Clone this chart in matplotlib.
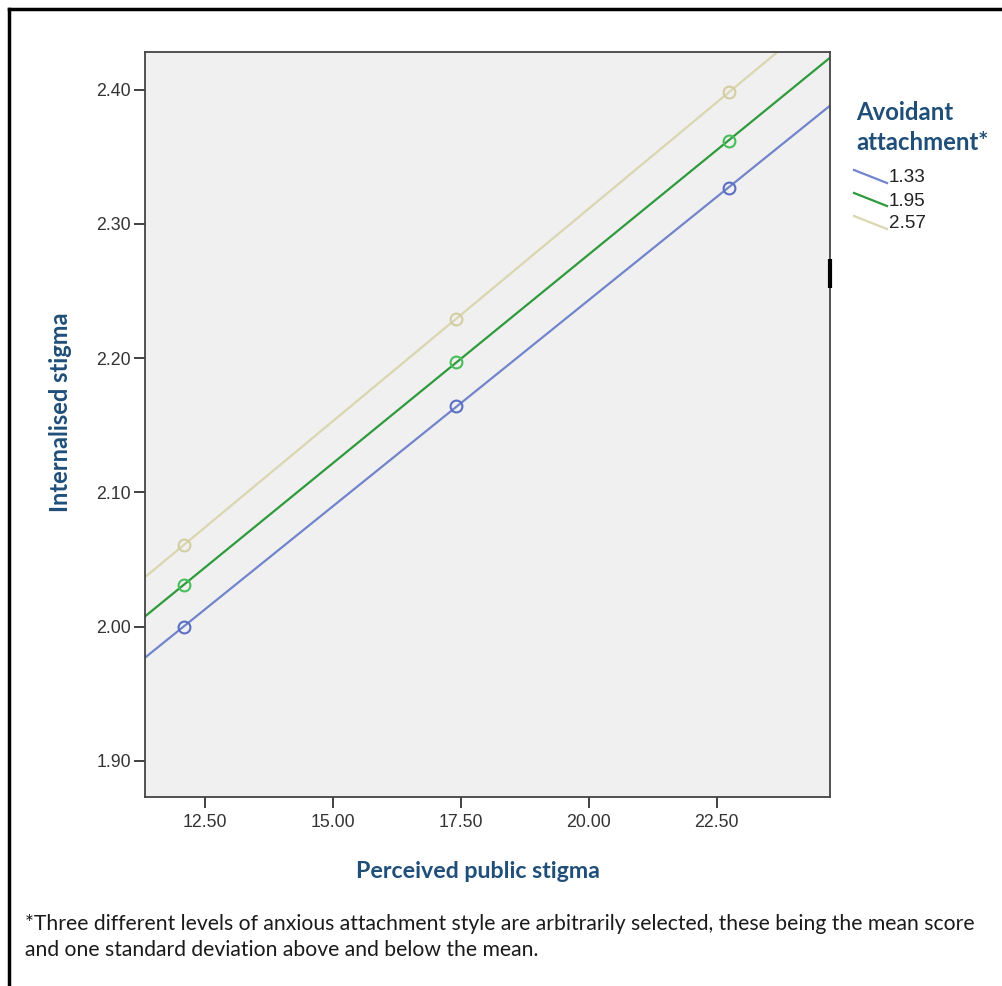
import numpy as np
import matplotlib
matplotlib.use("Agg")
import matplotlib.pyplot as plt
from matplotlib.lines import Line2D

# ---- data ----
x_levels = [12.09, 17.41, 22.73]
series_labels = ["1.33", "1.95", "2.57"]
y_low = [2.000, 2.164, 2.327]
y_mid = [2.031, 2.197, 2.362]
y_high = [2.061, 2.229, 2.398]
x_ticks = [12.5, 15.0, 17.5, 20.0, 22.5]
x_tick_labels = ["12.50", "15.00", "17.50", "20.00", "22.50"]
y_ticks = [1.9, 2.0, 2.1, 2.2, 2.3, 2.4]
y_tick_labels = ["1.90", "2.00", "2.10", "2.20", "2.30", "2.40"]

line_colors = ["#7284cb", "#2f9a3c", "#d9d6b0"]
marker_colors = ["#5b6fc4", "#46bf5a", "#d2cea2"]

W, H = 1003, 986
fig = plt.figure(figsize=(W / 100, H / 100), dpi=100)
fig.patch.set_facecolor("white")

ax = fig.add_axes([145 / W, 1 - 797 / H, (830 - 145) / W, (797 - 52) / H])
ax.set_facecolor("#f0f0f0")
xlim = (11.33, 24.71)
ylim = (1.873, 2.428)
ax.set_xlim(*xlim)
ax.set_ylim(*ylim)

for ys, lc, mc in zip([y_low, y_mid, y_high], line_colors, marker_colors):
    coef = np.polyfit(x_levels, ys, 1)
    xs = np.array(xlim)
    ax.plot(xs, np.polyval(coef, xs), color=lc, lw=1.6, zorder=2)
    ax.plot(x_levels, ys, ls="none", marker="o", ms=8.5, mfc="none",
            mec=mc, mew=1.5, zorder=3)

ax.set_xticks(x_ticks)
ax.set_xticklabels(x_tick_labels)
ax.set_yticks(y_ticks)
ax.set_yticklabels(y_tick_labels)
ax.tick_params(axis="both", length=8, width=1.3, color="#333333",
               labelsize=12.8, labelcolor="#333333", pad=2,
               labelfontfamily="Liberation Sans")
ax.tick_params(axis="x", pad=4)
for s in ax.spines.values():
    s.set_color("#444444")
    s.set_linewidth(1.3)

# small dark mark on right spine
ax.plot([xlim[1], xlim[1]], [2.252, 2.274], color="black", lw=3,
        clip_on=False, zorder=5, solid_capstyle="butt")

label_color = "#1f4e79"
fig.text(478 / W, 1 - 872 / H, "Perceived public stigma", ha="center", va="center",
         fontsize=16.7, fontweight="bold", color=label_color, family="Lato")
fig.text(61 / W, 1 - 412 / H, "Internalised stigma", ha="center", va="center",
         rotation=90, fontsize=17, fontweight="bold", color=label_color, family="Lato")

# legend
fig.text(856 / W, 1 - 113 / H, "Avoidant", ha="left", va="center",
         fontsize=17.2, fontweight="bold", color=label_color, family="Lato")
fig.text(856 / W, 1 - 142 / H, "attachment*", ha="left", va="center",
         fontsize=17.2, fontweight="bold", color=label_color, family="Lato")
for i, (lab, lc) in enumerate(zip(series_labels, line_colors)):
    yc = 178 + 23 * i
    fig.add_artist(Line2D([854 / W, 887 / W], [1 - (yc - 8) / H, 1 - (yc + 5) / H],
                          color=lc, lw=1.6, transform=fig.transFigure))
    fig.text(889 / W, 1 - yc / H, lab, ha="left", va="center", fontsize=13.6,
             color="#222222", family="Liberation Sans")

# footnote
fig.text(25 / W, 1 - 924 / H,
         "*Three different levels of anxious attachment style are arbitrarily selected, these being the mean score",
         ha="left", va="center", fontsize=15.2, color="#1a1a1a", family="Lato")
fig.text(25 / W, 1 - 950 / H, "and one standard deviation above and below the mean.",
         ha="left", va="center", fontsize=15.2, color="#1a1a1a", family="Lato")

# outer frame (top and left edges)
fig.add_artist(Line2D([9 / W, 1], [1 - 9 / H, 1 - 9 / H], color="black", lw=2.5,
                      transform=fig.transFigure))
fig.add_artist(Line2D([9 / W, 9 / W], [0, 1 - 9 / H], color="black", lw=2.5,
                      transform=fig.transFigure))

fig.savefig("out.png", dpi=100)
